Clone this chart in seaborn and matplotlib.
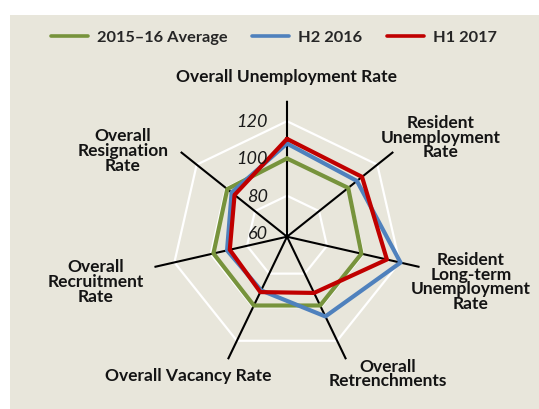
import numpy as np
import pandas as pd
import matplotlib
matplotlib.use("Agg")
import matplotlib.pyplot as plt
from matplotlib.lines import Line2D
import seaborn as sns

# Indicators (spokes), clockwise from the top
categories = [
    "Overall Unemployment Rate",
    "Resident\nUnemployment\nRate",
    "Resident\nLong-term\nUnemployment\nRate",
    "Overall\nRetrenchments",
    "Overall Vacancy Rate",
    "Overall\nRecruitment\nRate",
    "Overall\nResignation\nRate",
]

# Index values (2015-16 average = 100)
avg_2015_16 = [100, 100, 99, 99, 99, 98.5, 99]
h2_2016 = [108, 106, 120.5, 105.5, 90, 91, 96]
h1_2017 = [110.5, 109.5, 113, 91.5, 91, 89.5, 94]

series_names = ["2015\u201316 Average", "H2 2016", "H1 2017"]
series_values = [avg_2015_16, h2_2016, h1_2017]
colors = {"2015\u201316 Average": "#77933C", "H2 2016": "#4F81BD", "H1 2017": "#C00000"}

ring_levels = [60, 80, 100, 120]
ring_labels = ["60", "80", "100", "120"]

sns.set_theme(style="white")
plt.rcParams["font.family"] = ["Lato", "DejaVu Sans"]

BG = "#E8E6DB"
W, H = 539, 410
fig = plt.figure(figsize=(W / 100, H / 100), dpi=100)
fig.patch.set_facecolor("white")
fig.patches.append(plt.Rectangle((10 / W, 0), 1 - 10 / W, 1 - 16 / H,
                                 transform=fig.transFigure, facecolor=BG,
                                 edgecolor="none", zorder=-5))

r_min, r_max = 58, 131
cx, cy, rad = 287, 237.7, 136
ax = fig.add_axes([(cx - rad) / W, (H - cy - rad) / H, 2 * rad / W, 2 * rad / H],
                  projection="polar")
ax.set_zorder(2)
ax.patch.set_alpha(0)
ax.set_theta_zero_location("N")
ax.set_theta_direction(-1)
ax.set_ylim(r_min, r_max)
ax.grid(False)
ax.spines["polar"].set_visible(False)

n = len(categories)
angles = np.linspace(0, 2 * np.pi, n, endpoint=False)
closed = np.append(angles, angles[0])

# Heptagon gridlines
for lvl in ring_levels:
    ax.plot(closed, [lvl] * (n + 1), color="white", lw=1.6, zorder=1)

# Spokes
for a in angles:
    ax.plot([a, a], [r_min, r_max], color="black", lw=1.5, zorder=2)

# Series
rows = []
for name, vals in zip(series_names, series_values):
    for a, v in zip(closed, vals + vals[:1]):
        rows.append({"theta": a, "value": v, "series": name})
df = pd.DataFrame(rows)
sns.lineplot(data=df, x="theta", y="value", hue="series", palette=colors,
             sort=False, estimator=None, lw=3, legend=False, ax=ax, zorder=3)
ax.set_xlabel("")
ax.set_ylabel("")
ax.set_ylim(r_min, r_max)
ax.set_xticks([])
ax.set_yticks([])

# Ring value labels along the top spoke
for lvl, lab in zip(ring_levels, ring_labels):
    ax.annotate(lab, xy=(0, lvl), xytext=(-19, 0), textcoords="offset pixels",
                ha="right", va="center", fontsize=13, fontstyle="italic",
                color="#1a1a1a", zorder=4, annotation_clip=False)

# Spoke labels
label_pos = [(287, 77), (441, 137.5), (471, 282), (388, 374),
             (188, 376), (96, 282), (123, 151)]
for text, (px, py) in zip(categories, label_pos):
    fig.text(px / W, 1 - py / H, text, ha="center", va="center",
             fontsize=12.5, fontweight="bold", color="#141414",
             linespacing=0.92, multialignment="center")

# Legend
handles = [Line2D([0], [0], color=colors[s], lw=2.6) for s in series_names]
fig.legend(handles, series_names, loc="center", bbox_to_anchor=(274 / W, 1 - 38 / H),
           ncol=3, frameon=False, handlelength=2.25, columnspacing=1.5,
           handletextpad=0.56, prop={"weight": "bold", "size": 11.8})

fig.savefig("out.png", dpi=100, facecolor=fig.get_facecolor())
